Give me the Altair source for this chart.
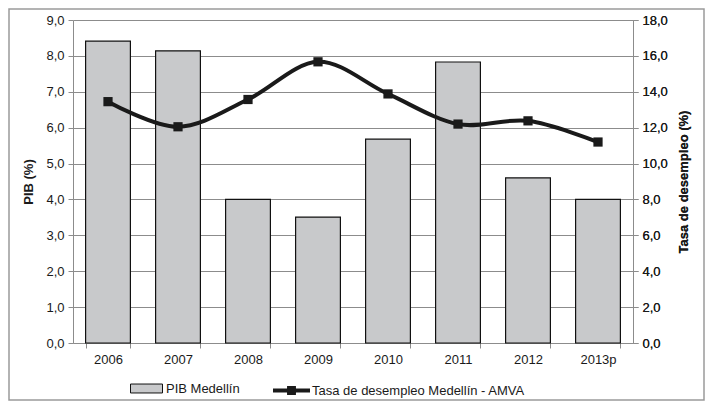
import altair as alt
import pandas as pd

years = ["2006", "2007", "2008", "2009", "2010", "2011", "2012", "2013p"]
pib = [8.41, 8.14, 4.0, 3.51, 5.68, 7.83, 4.6, 4.0]
desempleo = [13.45, 12.05, 13.57, 15.67, 13.88, 12.2, 12.38, 11.2]

bar_name = "PIB Medellín"
line_name = "Tasa de desempleo Medellín - AMVA"

df = pd.DataFrame({"anio": years, "pib": pib, "des": desempleo,
                   "s_bar": [bar_name] * len(years), "s_line": [line_name] * len(years)})

FONT = "Liberation Sans"
label_expr = "replace(format(datum.value, '.1f'), '.', ',')"

x = alt.X("anio:N", sort=years, title=None,
          scale=alt.Scale(paddingInner=0.36, paddingOuter=0.18),
          axis=alt.Axis(labelAngle=0, tickBand="extent", grid=False, domainColor="#8c8c8c",
                        tickColor="#8c8c8c", tickSize=5, labelPadding=5, labelFontSize=13,
                        labelColor="#1a1a1a", labelFont=FONT))

bars = alt.Chart(df).mark_bar(stroke="#111111", strokeWidth=1.2).encode(
    x=x,
    y=alt.Y("pib:Q", title="PIB (%)",
            scale=alt.Scale(domain=[0, 9], nice=False),
            axis=alt.Axis(values=list(range(10)), labelExpr=label_expr, grid=True,
                          gridColor="#8c8c8c", gridWidth=1, domainColor="#8c8c8c",
                          tickColor="#8c8c8c", tickSize=5, labelPadding=4,
                          labelFontSize=13, labelColor="#1a1a1a", labelFont=FONT,
                          titleFont=FONT, titleFontSize=13, titleFontWeight="bold",
                          titleColor="#1a1a1a", titlePadding=10)),
    fill=alt.Fill("s_bar:N", title=None,
                  scale=alt.Scale(domain=[bar_name], range=["#c8c9cb"]),
                  legend=alt.Legend(orient="none", legendX=57, legendY=352,
                                    symbolType="M-1,-0.28H1V0.28H-1Z", symbolSize=1024,
                                    symbolStrokeColor="#111111", symbolStrokeWidth=1,
                                    labelFont=FONT, labelFontSize=13, labelColor="#1a1a1a",
                                    labelOffset=3, labelLimit=300)),
)

yr = alt.Y("des:Q", title="Tasa de desempleo (%)",
           scale=alt.Scale(domain=[0, 18], nice=False),
           axis=alt.Axis(orient="right", values=list(range(0, 19, 2)), labelExpr=label_expr,
                         grid=False, domainColor="#8c8c8c", tickColor="#8c8c8c", tickSize=5,
                         labelPadding=4, labelFontSize=13, labelColor="#1a1a1a",
                         labelFont=FONT, titleFont=FONT, titleFontSize=13,
                         titleFontWeight="bold", titleColor="#1a1a1a", titlePadding=10,
                         titleAngle=270, titleBaseline="top"))

line = alt.Chart(df).mark_line(interpolate="cardinal", strokeWidth=4).encode(
    x=x,
    y=yr,
    stroke=alt.Stroke("s_line:N", title=None,
                      scale=alt.Scale(domain=[line_name], range=["#1a1a1a"]),
                      legend=alt.Legend(orient="none", legendX=200, legendY=352,
                                        symbolType="M-1,-0.11H1V0.11H-1Z M-0.24,-0.24H0.24V0.24H-0.24Z",
                                        symbolSize=1369, symbolFillColor="#1a1a1a",
                                        symbolStrokeWidth=0,
                                        labelFont=FONT, labelFontSize=13,
                                        labelColor="#1a1a1a", labelOffset=2, labelLimit=400)),
)

points = alt.Chart(df).mark_point(shape="square", filled=True, size=85, opacity=1,
                                  color="#1a1a1a").encode(x=x, y=yr)

frame = alt.Chart(pd.DataFrame({"a": [0]})).mark_rect(
    fill=None, stroke="#9a9a9a", strokeWidth=1.5
).encode(x=alt.value(-64), x2=alt.value(631), y=alt.value(-11), y2=alt.value(380))

chart = alt.layer(bars, line, points, frame).resolve_scale(
    y="independent", fill="independent", stroke="independent"
).properties(
    width=560, height=323,
    padding={"left": 65, "top": 12, "right": 72, "bottom": 58},
    autosize=alt.AutoSizeParams(type="none"),
    background="white",
).configure_view(stroke=None)

chart.save("out.html", embed_options={"renderer": "svg", "actions": False})
